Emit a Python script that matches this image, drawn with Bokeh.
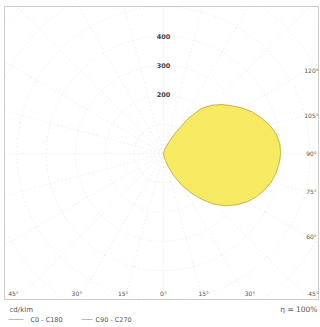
import numpy as np
from bokeh.plotting import figure
from bokeh.models import Range1d, Label
from bokeh.embed import file_html
from bokeh.resources import INLINE

# Luminous intensity (cd/klm) of the C90-C270 plane, gamma 0..180 every 5 deg
gamma = [0, 5, 10, 15, 20, 25, 30, 35, 40, 45, 50, 55, 60, 65, 70, 75, 80, 85, 90,
         95, 100, 105, 110, 115, 120, 125, 130, 135, 140, 145, 150, 155, 160, 165, 170, 175, 180]
intensity = [0, 4, 12, 25, 50, 85, 125, 165, 205, 245, 278, 305, 330, 350, 366, 380, 390, 396, 400,
             398, 390, 375, 355, 335, 310, 284, 260, 233, 200, 145, 80, 42, 22, 10, 5, 2, 0]

ring_values = [100, 200, 300, 400, 500, 600, 700, 800]
ring_labels = ["200", "300", "400"]
ring_label_values = [200, 300, 400]
right_angles = [120, 105, 90, 75, 60]
bottom_angles = [-45, -30, -15, 0, 15, 30, 45]
legend_names = ["C0 - C180", "C90 - C270"]
unit_text = "cd/klm"
eff_text = "η = 100%"

# layout helpers (pixel -> data), scale in px per cd/klm
S = 0.293
CX, CY = 163, 153
W, H = 320, 326


def dx(px):
    return (px - CX) / S


def dy(py):
    return (CY - py) / S


p = figure(width=W, height=H, output_backend="svg", toolbar_location=None,
           x_range=Range1d(dx(0), dx(W)), y_range=Range1d(dy(H), dy(0)),
           min_border_left=0, min_border_right=0, min_border_top=0, min_border_bottom=0)
p.xaxis.visible = False
p.yaxis.visible = False
p.xgrid.visible = False
p.ygrid.visible = False
p.outline_line_color = None
p.background_fill_color = "white"
p.border_fill_color = "white"

L, R, T, B = dx(4), dx(318), dy(6), dy(299)

grid_col = "#ededed"
t = np.linspace(0, 2 * np.pi, 361)
p.multi_line([list(r * np.sin(t)) for r in ring_values], [list(r * np.cos(t)) for r in ring_values],
             line_color=grid_col, line_width=0.8, line_dash="2 2")
angs = np.deg2rad(np.arange(0, 360, 15))
p.multi_line([[0, 1200 * np.sin(a)] for a in angs], [[0, -1200 * np.cos(a)] for a in angs],
             line_color=grid_col, line_width=0.8, line_dash="2 2")

# white masks outside the diagram box
big = 3000
p.quad(left=[-big, R, -big, -big], right=[L, big, big, big],
       bottom=[-big, -big, -big, T], top=[big, big, B, big],
       fill_color="white", line_color=None)
# diagram box
p.quad(left=[L], right=[R], bottom=[B], top=[T], fill_color=None,
       line_color="#cccccc", line_width=1)

# light distribution curve
g = np.deg2rad(np.array(gamma))
I = np.array(intensity, dtype=float)
xs = I * np.sin(g)
ys = -I * np.cos(g)
p.patch(list(xs), list(ys), fill_color="#f6ea62", fill_alpha=1.0,
        line_color="#c9b444", line_width=1, line_join="round")

txt_col = "#555555"
fs = "6px"
font = "DejaVu Sans"
for v, lab in zip(ring_label_values, ring_labels):
    p.add_layout(Label(x=0, y=v, text=lab, text_align="center", text_baseline="middle",
                       text_font_size="6.5px", text_color="#444444", text_font=font,
                       text_font_style="bold"))

for a in right_angles:
    yr = -490 / np.tan(np.deg2rad(a)) if a != 90 else 0.0
    p.add_layout(Label(x=dx(311), y=yr, text=f"{a}°", text_align="center", text_baseline="middle",
                       text_font_size=fs, text_color=txt_col, text_font=font))

for a in bottom_angles:
    xb = 512 * np.tan(np.deg2rad(a))
    p.add_layout(Label(x=xb, y=dy(293), text=f"{abs(a)}°", text_align="center", text_baseline="middle",
                       text_font_size=fs, text_color=txt_col, text_font=font))

# texts below the box
p.add_layout(Label(x=dx(9), y=dy(309), text=unit_text, text_align="left", text_baseline="middle",
                   text_font_size="7px", text_color=txt_col, text_font=font))
p.add_layout(Label(x=dx(317), y=dy(309), text=eff_text, text_align="right", text_baseline="middle",
                   text_font_size="7.5px", text_color=txt_col, text_font=font))
p.line([dx(8), dx(23)], [dy(319), dy(319)], line_color="#b8b8b8", line_width=1)
p.line([dx(81), dx(92)], [dy(319), dy(319)], line_color="#b8b8b8", line_width=1)
p.add_layout(Label(x=dx(30), y=dy(319), text=legend_names[0], text_align="left", text_baseline="middle",
                   text_font_size="6.5px", text_color=txt_col, text_font=font))
p.add_layout(Label(x=dx(95), y=dy(319), text=legend_names[1], text_align="left", text_baseline="middle",
                   text_font_size="6.5px", text_color=txt_col, text_font=font))

open("out.html", "w").write(file_html(p, INLINE))
